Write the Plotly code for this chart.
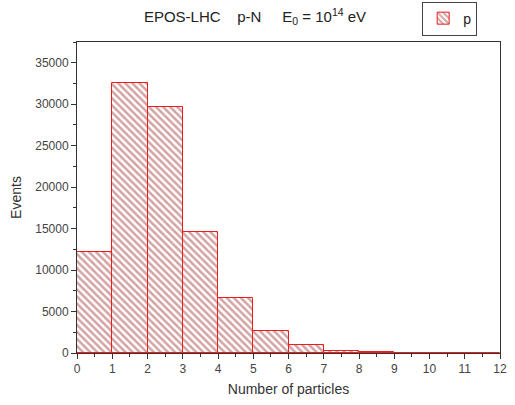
import plotly.graph_objects as go

bin_left = [0, 1, 2, 3, 4, 5, 6, 7, 8, 9, 10, 11]
events = [12200, 32550, 29650, 14550, 6650, 2650, 950, 300, 120, 0, 0, 0]
bin_centers = [b + 0.5 for b in bin_left]
x_ticks = list(range(0, 13))
y_ticks = list(range(0, 35001, 5000))

font_family = "Liberation Sans, Arial, sans-serif"

fig = go.Figure()
fig.add_trace(go.Bar(
    x=bin_centers, y=events, width=1, name="p",
    marker=dict(
        color="white",
        line=dict(color="#ee1c1c", width=1),
        pattern=dict(shape="\\", fgcolor="#a84848", bgcolor="white", size=5, solidity=0.5),
    ),
    showlegend=True,
))

fig.update_layout(
    width=515, height=405,
    margin=dict(l=77, r=15, t=42, b=52, autoexpand=False),
    paper_bgcolor="white", plot_bgcolor="white",
    font=dict(family=font_family, size=12, color="#333"),
    title=dict(
        text="EPOS-LHC\u00a0\u00a0\u00a0\u00a0p-N\u00a0\u00a0\u00a0\u00a0\u00a0E<sub>0</sub> = 10<sup>14</sup> eV",
        x=255/515, xanchor="center", xref="container",
        y=1 - 17/405, yanchor="middle", yref="container",
        font=dict(size=15, color="#222"),
    ),
    legend=dict(
        x=0.816, y=1.13, xanchor="left", yanchor="top",
        bordercolor="#444", borderwidth=1, bgcolor="white",
        font=dict(size=14, color="#222"),
        itemwidth=30, tracegroupgap=0,
    ),
    bargap=0,
    xaxis=dict(
        range=[0, 12], tickvals=x_ticks, ticks="outside", ticklen=5,
        tickcolor="#333", showline=True, linecolor="#333", linewidth=1,
        mirror=True, showgrid=False, zeroline=False, automargin=False,
        minor=dict(dtick=0.5, ticks="outside", ticklen=3, tickcolor="#333", showgrid=False),
        title=dict(text="Number of particles", font=dict(size=14, color="#333"), standoff=8),
        tickfont=dict(size=12, color="#444"),
    ),
    yaxis=dict(
        range=[0, 37500], tickvals=y_ticks, tickformat="d", ticks="outside", ticklen=5,
        tickcolor="#333", showline=True, linecolor="#333", linewidth=1,
        mirror=True, showgrid=False, zeroline=False, automargin=False,
        minor=dict(dtick=2500, ticks="outside", ticklen=3, tickcolor="#333", showgrid=False),
        title=dict(text="Events", font=dict(size=14, color="#333"), standoff=10),
        tickfont=dict(size=12, color="#444"),
    ),
)

fig.write_html("out.html", config={"displayModeBar": False},
               post_script="document.body.style.margin='0';")
